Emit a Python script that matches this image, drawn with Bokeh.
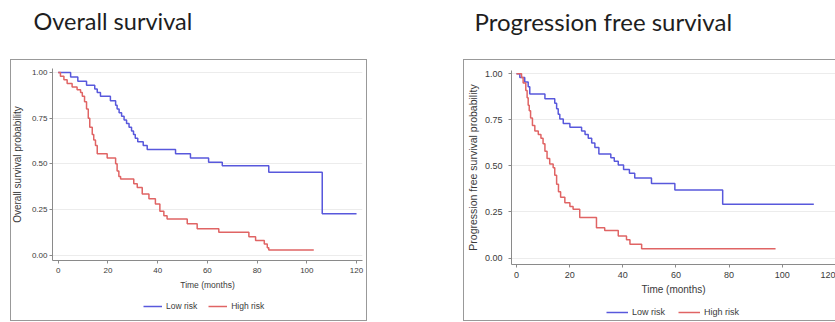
from bokeh.plotting import figure
from bokeh.models import (FixedTicker, NumeralTickFormatter, Legend, LegendItem, Range1d)
from bokeh.layouts import row, column
from bokeh.embed import file_html
from bokeh.resources import INLINE

# ---------------- data (Kaplan-Meier step curves) -------------
x_ticks = [0, 20, 40, 60, 80, 100, 120]
y_ticks = [0.0, 0.25, 0.5, 0.75, 1.0]
series_labels = ["Low risk", "High risk"]

os_low_t = [0, 5.0, 7.9, 11.4, 14.7, 15.7, 17.0, 21.0, 23.1, 23.7, 24.5, 25.5, 26.5,
            27.5, 28.5, 29.5, 30.3, 31.0, 32.0, 34.2, 35.8, 47.2, 53.2, 60.5, 66.0,
            84.7, 106.2, 120.0]
os_low_s = [1.0, 0.975, 0.952, 0.93, 0.91, 0.89, 0.87, 0.845, 0.82, 0.80, 0.78, 0.76, 0.74,
            0.72, 0.70, 0.68, 0.66, 0.64, 0.62, 0.60, 0.578, 0.555, 0.532, 0.508, 0.489,
            0.454, 0.226, 0.226]

os_high_t = [0, 0.9, 2.3, 3.6, 5.6, 7.6, 9.0, 9.7, 10.6, 11.4, 12.1, 12.7, 13.7, 14.3,
             15.0, 15.7, 19.7, 23.1, 23.7, 24.4, 25.1, 30.4, 31.8, 33.8, 36.5, 39.1,
             40.9, 42.5, 43.8, 51.9, 55.9, 64.6, 76.7, 79.4, 82.9, 84.1, 84.7, 102.8]
os_high_s = [1.0, 0.98, 0.96, 0.94, 0.92, 0.905, 0.89, 0.87, 0.84, 0.80, 0.75, 0.70, 0.66,
             0.63, 0.60, 0.555, 0.532, 0.50, 0.46, 0.43, 0.417, 0.39, 0.37, 0.335, 0.308,
             0.28, 0.24, 0.215, 0.198, 0.171, 0.144, 0.125, 0.10, 0.08, 0.06, 0.04,
             0.028, 0.028]

pfs_low_t = [0, 1.25, 3.1, 4.4, 5.0, 10.7, 14.4, 15.1, 15.7, 16.3, 17.6, 20.1, 24.5,
             25.8, 27.0, 28.3, 29.5, 31.0, 35.5, 36.8, 38.3, 40.3, 42.5, 44.5, 50.8,
             59.6, 77.6, 111.9]
pfs_low_s = [1.0, 0.98, 0.955, 0.93, 0.89, 0.865, 0.84, 0.81, 0.78, 0.755, 0.73, 0.71, 0.69,
             0.67, 0.65, 0.625, 0.60, 0.565, 0.545, 0.525, 0.505, 0.48, 0.46, 0.435, 0.405,
             0.37, 0.292, 0.292]

pfs_high_t = [0, 1.9, 2.5, 3.5, 4.0, 4.4, 4.8, 5.3, 6.0, 6.9, 8.2, 9.2, 10.0, 10.7, 11.5,
              12.5, 13.8, 14.4, 15.1, 15.8, 16.6, 18.2, 20.1, 21.3, 23.8, 30.1, 33.2,
              38.3, 41.4, 42.7, 47.1, 97.5]
pfs_high_s = [1.0, 0.98, 0.95, 0.91, 0.87, 0.83, 0.80, 0.76, 0.72, 0.69, 0.67, 0.65, 0.62,
              0.58, 0.54, 0.51, 0.49, 0.45, 0.40, 0.36, 0.33, 0.30, 0.28, 0.265, 0.22,
              0.165, 0.15, 0.12, 0.10, 0.075, 0.05, 0.05]

BLUE = "#5858dc"
RED = "#e06464"
AXIS = "#8a8a8a"
TXT = "#3a3a3a"
FRAME = "#999999"


def box_styles(lines):
    """CSS background lines forming the grey panel box (decoration only)."""
    imgs, sizes, poss = [], [], []
    for (x, y, w, h) in lines:
        imgs.append(f"linear-gradient({FRAME}, {FRAME})")
        sizes.append(f"{w}px {h}px")
        poss.append(f"{x}px {y}px")
    return {"background-color": "white",
            "background-image": ", ".join(imgs),
            "background-size": ", ".join(sizes),
            "background-position": ", ".join(poss),
            "background-repeat": "no-repeat"}


def make_panel(title, ylabel, low_t, low_s, high_t, high_s, width, height,
               xr, yr, borders, title_font, title_offset, title_standoff, fonts, lines):
    bl, br, bt, bb = borders
    p = figure(width=width, height=height, x_range=Range1d(*xr), y_range=Range1d(*yr),
               min_border_left=bl, min_border_right=br, min_border_top=bt,
               min_border_bottom=bb, output_backend="svg", toolbar_location=None,
               title=title + "\n", styles=box_styles(lines))
    p.outline_line_color = None
    p.background_fill_color = "white"
    p.border_fill_color = None

    t = p.title
    t.text_font = "Lato"
    t.text_font_size = title_font
    t.text_font_style = "normal"
    t.text_line_height = 1.2
    t.text_color = "#1e1e1e"
    t.align = "left"
    t.offset = title_offset
    t.standoff = title_standoff

    tick_fs, xlab_fs, ylab_fs, ystand, xstand, ylabstand, xlabstand = fonts
    for ax in (p.xaxis[0], p.yaxis[0]):
        ax.axis_line_color = AXIS
        ax.major_tick_line_color = AXIS
        ax.minor_tick_line_color = None
        ax.major_tick_out = 3
        ax.major_tick_in = 0
        ax.major_label_text_font = "Liberation Sans"
        ax.major_label_text_font_size = tick_fs
        ax.major_label_text_color = TXT
        ax.axis_label_text_font = "Liberation Sans"
        ax.axis_label_text_font_style = "normal"
        ax.axis_label_text_color = TXT
    p.xaxis.ticker = FixedTicker(ticks=x_ticks)
    p.yaxis.ticker = FixedTicker(ticks=y_ticks)
    p.yaxis.formatter = NumeralTickFormatter(format="0.00")
    p.xaxis.axis_label = "Time (months)"
    p.yaxis.axis_label = ylabel
    p.xaxis.axis_label_text_font_size = xlab_fs
    p.yaxis.axis_label_text_font_size = ylab_fs
    p.yaxis.major_label_standoff = ystand
    p.xaxis.major_label_standoff = xstand
    p.yaxis.axis_label_standoff = ylabstand
    p.xaxis.axis_label_standoff = xlabstand

    p.xgrid.grid_line_color = None
    p.ygrid.grid_line_color = "#ececec"
    p.ygrid.grid_line_width = 1

    p.step(low_t, low_s, mode="after", line_color=BLUE, line_width=1.5)
    p.step(high_t, high_s, mode="after", line_color=RED, line_width=1.5)
    return p


def make_legend(width, height, loc, gw, gs, sp, fs, lines, low_t, low_s, high_t, high_s):
    # the same curves are drawn here, but the y range (5..6) keeps them out of view:
    # only the legend (swatches + labels) of this strip is visible
    lf = figure(width=width, height=height, x_range=Range1d(0, 1), y_range=Range1d(5, 6),
                x_axis_type=None, y_axis_type=None, min_border=0,
                output_backend="svg", toolbar_location=None, styles=box_styles(lines))
    lf.outline_line_color = None
    lf.background_fill_color = None
    lf.border_fill_color = None
    lf.xgrid.grid_line_color = None
    lf.ygrid.grid_line_color = None
    k1 = lf.step(low_t, low_s, mode="after", line_color=BLUE, line_width=1.5)
    k2 = lf.step(high_t, high_s, mode="after", line_color=RED, line_width=1.5)
    leg = Legend(items=[LegendItem(label=series_labels[0], renderers=[k1]),
                        LegendItem(label=series_labels[1], renderers=[k2])],
                 orientation="horizontal", location=loc,
                 glyph_width=gw, glyph_height=10, label_height=10, label_width=10,
                 label_standoff=gs, spacing=sp, padding=0, margin=0,
                 border_line_color=None, background_fill_alpha=0,
                 label_text_font="Liberation Sans", label_text_font_size=fs,
                 label_text_color=TXT)
    lf.add_layout(leg, "center")
    return lf


p1 = make_panel("Overall survival", "Overall survival probability",
                os_low_t, os_low_s, os_high_t, os_high_s,
                width=455, height=296, xr=(-2.29, 122.4), yr=(-0.030, 1.022),
                borders=(52, 93, 68, 36), title_font="23.5px",
                title_offset=-19, title_standoff=0,
                fonts=("8px", "8.5px", "10px", 2, 4, 6, 4),
                lines=[(10, 59, 357, 1), (10, 59, 1, 237), (366, 59, 1, 237)])
l1 = make_legend(455, 26, (91, 11), 19, 4, 11, "8.5px",
                 [(10, 0, 1, 25), (366, 0, 1, 25), (10, 24, 357, 1)],
                 os_low_t, os_low_s, os_high_t, os_high_s)

p2 = make_panel("Progression free survival", "Progression free survival probability",
                pfs_low_t, pfs_low_s, pfs_high_t, pfs_high_s,
                width=380, height=300, xr=(-1.88, 120.06), yr=(-0.035, 1.018),
                borders=(56, 0, 70, 36), title_font="24px",
                title_offset=-37, title_standoff=0,
                fonts=("9px", "10px", "10.5px", 6, 4, 3, 3),
                lines=[(8, 59, 372, 1), (8, 59, 1, 241)])
l2 = make_legend(380, 22, (95, 5), 22, 4, 13, "9px",
                 [(8, 0, 1, 21), (8, 20, 372, 1)],
                 pfs_low_t, pfs_low_s, pfs_high_t, pfs_high_s)

layout = row(column(p1, l1, spacing=0), column(p2, l2, spacing=0), spacing=0)
open("out.html", "w").write(file_html(layout, INLINE))
